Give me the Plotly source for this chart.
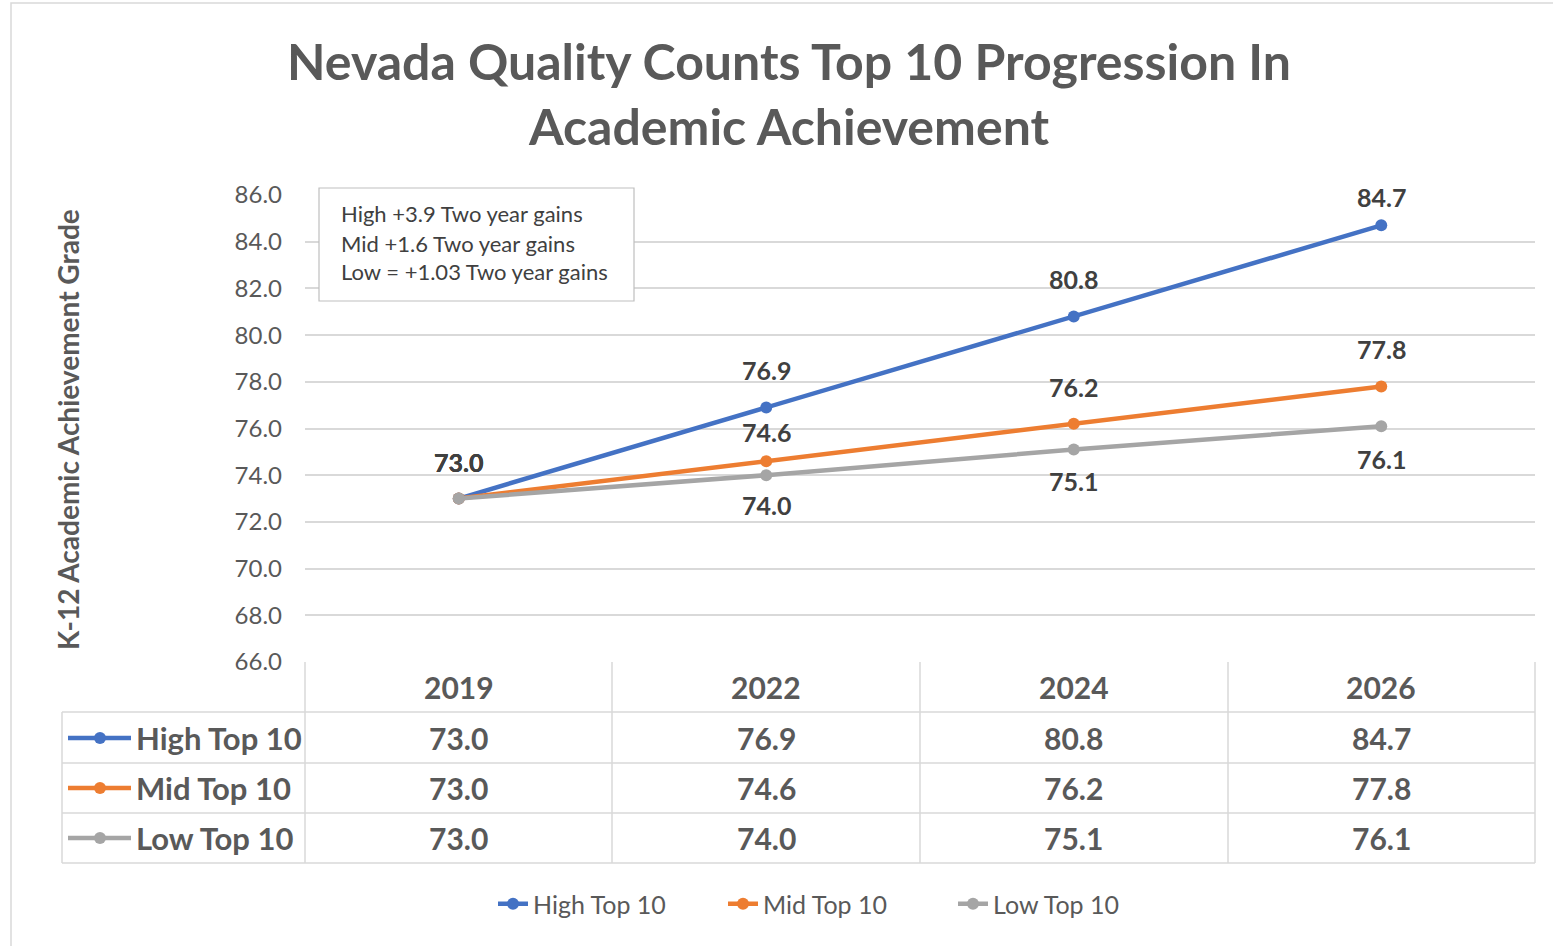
import plotly.graph_objects as go

# data
years = ["2019", "2022", "2024", "2026"]
high = [73.0, 76.9, 80.8, 84.7]
mid = [73.0, 74.6, 76.2, 77.8]
low = [73.0, 74.0, 75.1, 76.1]
names = ["High Top 10", "Mid Top 10", "Low Top 10"]
notes = ["High +3.9 Two year gains", "Mid +1.6 Two year gains", "Low = +1.03 Two year gains"]

colors = ["#4472C4", "#ED7D31", "#A5A5A5"]
series = [high, mid, low]
# vertical offset of each point label (px, + above / - below)
label_shift = [[37, 37, 37, 28], [37, 29, 37, 37], [37, -30, -31, -33]]

W, H = 1553, 946
FONT = "Lato"
GRID = "#D9D9D9"
TXT = "#595959"
DARK = "#404040"


def px(x):
    return x / W


def py(y):
    return 1 - y / H


fig = go.Figure()
for name, vals, c in zip(names, series, colors):
    fig.add_trace(go.Scatter(
        x=years, y=vals, name=name, mode="lines+markers",
        line=dict(color=c, width=4.5),
        marker=dict(color=c, size=12),
    ))

ann = []
# point labels
for vals, shifts in zip(series, label_shift):
    for i, (v, s) in enumerate(zip(vals, shifts)):
        ann.append(dict(x=i, y=v, xref="x", yref="y", text="<b>%.1f</b>" % v,
                        showarrow=False, yshift=s, xanchor="center", yanchor="middle",
                        font=dict(family=FONT, size=25, color=DARK)))

# data table under the plot
cols_x = [305, 612, 920, 1228, 1535]
shapes = []
for x in cols_x:
    shapes.append(dict(type="line", xref="paper", yref="paper", x0=px(x), x1=px(x),
                       y0=py(662), y1=py(863), line=dict(color=GRID, width=1.5)))
shapes.append(dict(type="line", xref="paper", yref="paper", x0=px(62), x1=px(62),
                   y0=py(712), y1=py(863), line=dict(color=GRID, width=1.5)))
for y in [712, 763, 813, 863]:
    shapes.append(dict(type="line", xref="paper", yref="paper", x0=px(62), x1=px(1535),
                       y0=py(y), y1=py(y), line=dict(color=GRID, width=1.5)))

for i, yr in enumerate(years):
    ann.append(dict(x=i, y=py(687), xref="x", yref="paper", text="<b>%s</b>" % yr,
                    showarrow=False, xanchor="center", yanchor="middle",
                    font=dict(family=FONT, size=30, color=TXT)))
row_y = [738, 788, 838]
for name, vals, c, ry in zip(names, series, colors, row_y):
    for i, v in enumerate(vals):
        ann.append(dict(x=i, y=py(ry), xref="x", yref="paper", text="<b>%.1f</b>" % v,
                        showarrow=False, xanchor="center", yanchor="middle",
                        font=dict(family=FONT, size=30, color=TXT)))
    shapes.append(dict(type="line", xref="paper", yref="paper", x0=px(68), x1=px(131),
                       y0=py(ry), y1=py(ry), line=dict(color=c, width=4.5)))
    shapes.append(dict(type="circle", xref="paper", yref="paper", x0=px(94), x1=px(106),
                       y0=py(ry + 6), y1=py(ry - 6), fillcolor=c, line=dict(color=c, width=0)))
    ann.append(dict(x=px(134), y=py(ry), xref="paper", yref="paper", text="<b>%s</b>" % name,
                    showarrow=False, xanchor="left", yanchor="middle",
                    font=dict(family=FONT, size=31, color=TXT)))

# note box
shapes.append(dict(type="rect", xref="paper", yref="paper", x0=px(319), x1=px(634),
                   y0=py(301), y1=py(188), fillcolor="white", line=dict(color="#BFBFBF", width=1.2),
                   layer="above"))
for t, ny in zip(notes, [213, 243, 272]):
    ann.append(dict(x=px(339), y=py(ny), xref="paper", yref="paper", text=t, showarrow=False,
                    xanchor="left", yanchor="middle", font=dict(family=FONT, size=22, color=DARK)))

# chart border
shapes.append(dict(type="rect", xref="paper", yref="paper", x0=px(11), x1=px(1570),
                   y0=py(960), y1=py(3), line=dict(color="#D9D9D9", width=1.5)))

# axis title
ann.append(dict(x=px(68), y=py(430), xref="paper", yref="paper",
                text="<b>K-12 Academic Achievement Grade</b>", textangle=-90, showarrow=False,
                xanchor="center", yanchor="middle",
                font=dict(family=FONT, size=28, color=TXT)))

fig.update_layout(
    width=W, height=H,
    margin=dict(l=0, r=0, t=0, b=0, autoexpand=False),
    paper_bgcolor="white", plot_bgcolor="white",
    title=dict(text="<b>Nevada Quality Counts Top 10 Progression In<br>Academic Achievement</b>",
               x=px(789), y=py(80), xanchor="center", yanchor="middle",
               font=dict(family=FONT, size=50, color=TXT)),
    xaxis=dict(domain=[px(305), px(1535)], type="category", range=[-0.5, 3.5],
               showticklabels=False, showgrid=False, zeroline=False, showline=False,
               automargin=False),
    yaxis=dict(domain=[py(662), py(195)], range=[66, 86], dtick=2, tickformat=".1f",
               gridcolor=GRID, gridwidth=1.5, zeroline=False, showline=False,
               ticklabelstandoff=22, automargin=False,
               tickfont=dict(family=FONT, size=24, color=TXT)),
    showlegend=True,
    legend=dict(orientation="h", x=px(838), y=py(904), xanchor="center", yanchor="middle",
                font=dict(family=FONT, size=25, color=TXT), entrywidth=185),
    annotations=ann,
    shapes=shapes,
)

# pin the graph to the top-left corner of the page so it fills the window exactly
pin = ("document.body.style.margin='0';"
       "var d=document.getElementById('{plot_id}');"
       "d.style.position='fixed';d.style.left='0px';d.style.top='0px';")
fig.write_html("out.html", post_script=pin, config={"displayModeBar": False})
